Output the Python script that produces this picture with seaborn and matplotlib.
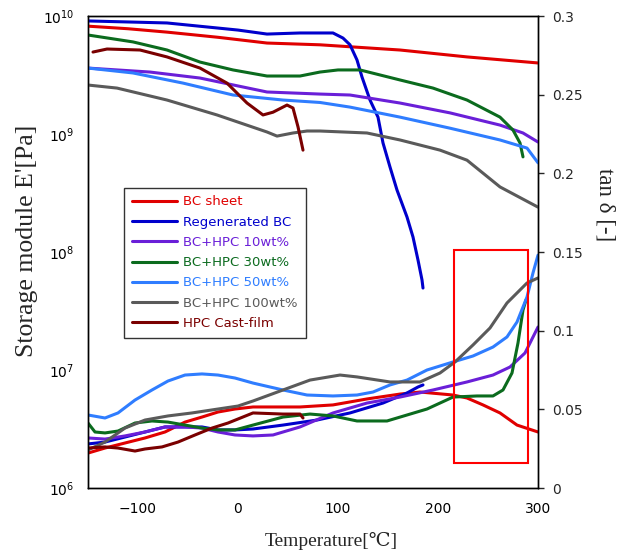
import numpy as np
import pandas as pd
import seaborn as sns
import matplotlib
matplotlib.use("Agg")
import matplotlib.pyplot as plt
from matplotlib.patches import Rectangle
from matplotlib.ticker import LogLocator, NullLocator, FixedLocator

# ---- storage modulus E' [Pa] (left, log axis) ----
t_bc = [-150, -110, -71, -20, 29, 82, 162, 229, 300]
e_bc = [8.2e9, 7.8e9, 7.3e9, 6.6e9, 5.9e9, 5.7e9, 5.15e9, 4.5e9, 4.0e9]

t_reg = [-150, -71, 0, 29, 62, 95, 105, 112, 119, 124, 132, 140, 145, 152, 159, 169, 175, 180, 184, 185]
e_reg = [9.08e9, 8.73e9, 7.6e9, 7.03e9, 7.18e9, 7.18e9, 6.5e9, 5.7e9, 4.24e9, 3.04e9, 1.94e9,
         1.39e9, 8.4e8, 5.25e8, 3.35e8, 1.98e8, 1.34e8, 8.55e7, 5.8e7, 4.95e7]

t_10 = [-150, -88, -38, 29, 82, 112, 162, 212, 262, 285, 300]
e_10 = [3.62e9, 3.35e9, 2.98e9, 2.27e9, 2.18e9, 2.14e9, 1.83e9, 1.51e9, 1.19e9, 1.02e9, 8.55e8]

t_30 = [-150, -105, -71, -38, -5, 29, 62, 82, 100, 122, 162, 195, 229, 262, 275, 282, 285]
e_30 = [6.9e9, 6.03e9, 5.15e9, 4.07e9, 3.49e9, 3.1e9, 3.1e9, 3.35e9, 3.49e9, 3.49e9, 2.87e9,
        2.45e9, 1.94e9, 1.39e9, 1.08e9, 8.4e8, 6.4e8]

t_50 = [-150, -105, -55, -5, 45, 82, 112, 162, 212, 262, 289, 300]
e_50 = [3.62e9, 3.29e9, 2.7e9, 2.14e9, 1.94e9, 1.85e9, 1.69e9, 1.39e9, 1.12e9, 8.9e8, 7.6e8, 5.7e8]

t_100 = [-150, -121, -71, -21, 29, 39, 55, 69, 82, 129, 162, 202, 229, 262, 300]
e_100 = [2.6e9, 2.45e9, 1.94e9, 1.45e9, 1.04e9, 9.6e8, 1.02e9, 1.06e9, 1.06e9, 1.02e9, 8.9e8,
         7.3e8, 6.0e8, 3.56e8, 2.4e8]

t_hpc = [-145, -131, -98, -71, -38, -11, 9, 25, 35, 49, 55, 60, 65]
e_hpc = [4.95e9, 5.25e9, 5.15e9, 4.5e9, 3.62e9, 2.7e9, 1.83e9, 1.45e9, 1.53e9, 1.76e9, 1.66e9, 1.15e9, 7.3e8]

# ---- tan delta (right axis) ----
tt_bc = [-150, -133, -113, -93, -73, -53, -36, -20, -3, 15, 62, 95, 129, 162, 182, 215, 229, 245, 262, 279, 300]
d_bc = [0.0222, 0.0254, 0.0286, 0.0318, 0.0356, 0.0419, 0.0451, 0.0483, 0.0502, 0.0515, 0.0515,
        0.0528, 0.0566, 0.0597, 0.0610, 0.0591, 0.0572, 0.0528, 0.0477, 0.0400, 0.0356]

tt_reg = [-150, -133, -113, -93, -73, -53, -36, -20, -3, 15, 45, 79, 112, 145, 169, 180, 185]
d_reg = [0.0280, 0.0292, 0.0324, 0.0356, 0.0388, 0.0388, 0.0388, 0.0369, 0.0369, 0.0375, 0.0400,
         0.0432, 0.0477, 0.0540, 0.0604, 0.0642, 0.0655]

tt_10 = [-150, -133, -113, -93, -73, -53, -36, -20, -3, 15, 35, 62, 95, 129, 162, 195, 229, 255, 272, 287, 300]
d_10 = [0.0318, 0.0311, 0.0331, 0.0356, 0.0388, 0.0388, 0.0381, 0.0356, 0.0337, 0.0331, 0.0337,
        0.0388, 0.0477, 0.0540, 0.0578, 0.0623, 0.0674, 0.0718, 0.0769, 0.0858, 0.1023]

tt_30 = [-150, -143, -133, -120, -103, -86, -70, -53, -36, -20, -3, 15, 45, 72, 95, 119, 149, 169,
         189, 215, 239, 255, 265, 274, 280, 285, 288]
d_30 = [0.0413, 0.0356, 0.0350, 0.0362, 0.0413, 0.0426, 0.0419, 0.0400, 0.0381, 0.0369, 0.0369,
        0.0400, 0.0451, 0.0470, 0.0458, 0.0426, 0.0426, 0.0464, 0.0502, 0.0578, 0.0585, 0.0585,
        0.0623, 0.0731, 0.0922, 0.1131, 0.1195]

tt_50 = [-150, -133, -120, -103, -86, -70, -53, -36, -20, -3, 15, 32, 45, 69, 95, 119, 135, 152,
         169, 189, 215, 235, 255, 269, 279, 289, 295, 300]
d_50 = [0.0464, 0.0445, 0.0477, 0.0559, 0.0623, 0.0680, 0.0718, 0.0725, 0.0718, 0.0699, 0.0667,
        0.0642, 0.0623, 0.0591, 0.0585, 0.0591, 0.0610, 0.0655, 0.0686, 0.0750, 0.0801, 0.0839,
        0.0896, 0.0960, 0.1055, 0.1214, 0.1367, 0.1480]

tt_100 = [-150, -133, -113, -93, -70, -46, -20, 0, 15, 45, 72, 102, 119, 152, 182, 202, 217, 235,
          252, 269, 289, 300]
d_100 = [0.0242, 0.0292, 0.0381, 0.0432, 0.0458, 0.0477, 0.0502, 0.0521, 0.0553, 0.0623, 0.0686,
         0.0718, 0.0706, 0.0674, 0.0674, 0.0731, 0.0801, 0.0909, 0.1017, 0.1176, 0.1303, 0.1335]

tt_hpc = [-150, -133, -120, -103, -93, -76, -60, -43, -26, -10, 15, 45, 62, 65]
d_hpc = [0.0254, 0.0261, 0.0254, 0.0235, 0.0248, 0.0261, 0.0292, 0.0337, 0.0381, 0.0413, 0.0477,
         0.0470, 0.0470, 0.0445]

labels = ["BC sheet", "Regenerated BC", "BC+HPC 10wt%", "BC+HPC 30wt%",
          "BC+HPC 50wt%", "BC+HPC 100wt%", "HPC Cast-film"]
colors = ["#e00000", "#0000cc", "#6a1fd8", "#0b6b1e", "#2f7dff", "#5a5a5a", "#7a0000"]
modulus = [(t_bc, e_bc), (t_reg, e_reg), (t_10, e_10), (t_30, e_30),
           (t_50, e_50), (t_100, e_100), (t_hpc, e_hpc)]
tandelta = [(tt_bc, d_bc), (tt_reg, d_reg), (tt_10, d_10), (tt_30, d_30),
            (tt_50, d_50), (tt_100, d_100), (tt_hpc, d_hpc)]

sns.set_style("white")
plt.rcParams['font.family'] = ['DejaVu Sans']
serif = ["Liberation Serif", "DejaVu Serif"]

fig = plt.figure(figsize=(6.27, 5.53), dpi=100)
ax = fig.add_axes([88 / 627, 65 / 553, 450 / 627, 472 / 553])
ax2 = ax.twinx()

for lab, col, (t, e) in zip(labels, colors, modulus):
    sns.lineplot(x=t, y=e, ax=ax, color=col, lw=2.2, label=lab, sort=False, estimator=None)
for col, (t, d) in zip(colors, tandelta):
    sns.lineplot(x=t, y=d, ax=ax2, color=col, lw=2.2, sort=False, estimator=None, legend=False)

ax.set_yscale("log")
ax.set_ylim(1e6, 1e10)
ax.set_xlim(-150, 300)
ax.yaxis.set_major_locator(LogLocator(base=10, numticks=10))
ax.yaxis.set_minor_locator(NullLocator())
ax.xaxis.set_major_locator(FixedLocator([-100, 0, 100, 200, 300]))
ax.tick_params(axis="both", length=0, labelsize=10, colors="black")
ax.tick_params(axis="x", pad=10)
ax.tick_params(axis="y", pad=10)

ax2.set_ylim(0, 0.3)
ax2.set_yticks([0, 0.05, 0.1, 0.15, 0.2, 0.25, 0.3])
ax2.set_yticklabels(["0", "0.05", "0.1", "0.15", "0.2", "0.25", "0.3"])
ax2.tick_params(axis="y", length=4, width=1, direction="out", labelsize=10, pad=6)
ax2.grid(False)
ax.grid(False)

for a in (ax, ax2):
    for s in a.spines.values():
        s.set_color("black")
        s.set_linewidth(1.0)

ax2.add_patch(Rectangle((216, 0.016), 74, 0.135, fill=False, edgecolor="red", lw=1.5, zorder=5))

ax.set_xlabel("Temperature[\u2103]", family=serif, fontsize=14)
ax.xaxis.set_label_coords(0.54, -0.093)
ax.set_ylabel("Storage module E'[Pa]", family=serif, fontsize=18.5)
ax.yaxis.set_label_coords(-0.111, 0.523)
ax2.set_ylabel("tan \u03b4 [-]", family=serif, fontsize=16.5, rotation=270, va="center")
ax2.yaxis.set_label_coords(1.149, 0.60)

leg = ax.legend(loc="lower left", bbox_to_anchor=(0.08, 0.318, 0.404, 0.313), mode="expand",
                borderaxespad=0, fontsize=9.5, handlelength=3.4, handletextpad=0.5,
                labelspacing=0.55, frameon=True, fancybox=False, edgecolor="black",
                borderpad=0.6, labelcolor="linecolor")
leg.get_frame().set_linewidth(1.0)
ax.set_zorder(ax2.get_zorder() + 1)
ax.patch.set_visible(False)

fig.savefig("out.png", dpi=100)
